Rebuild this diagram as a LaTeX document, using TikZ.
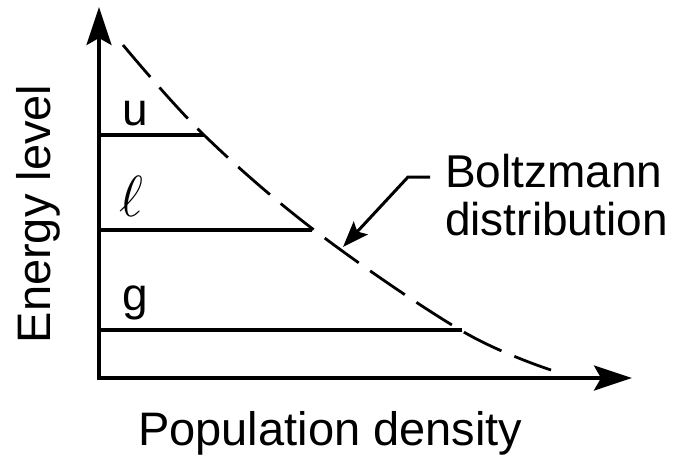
\RequirePackage{fix-cm}
\documentclass[tikz,border=0pt]{standalone}
\usepackage{fontspec}
\setmainfont{Liberation Sans}
\usetikzlibrary{arrows.meta}
\begin{document}
\begin{tikzpicture}[x=1pt,y=-1pt,
  axis/.style={line width=3.8pt, {Stealth[length=38pt,width=25pt,inset=7pt]}-{Stealth[length=38pt,width=25pt,inset=7pt]}},
  level/.style={line width=3.8pt},
  conn/.style={line width=3pt, -{Stealth[length=26pt,width=19pt,inset=5pt]}},
  dashcurve/.style={line width=2.8pt, dash pattern=on 42pt off 14pt},
  lbl/.style={inner sep=0pt, anchor=base west, font=\fontsize{46}{48}\selectfont},
  ellstyle/.style={inner sep=0pt, anchor=base west, font=\fontsize{58}{60}\selectfont},
  big/.style={inner sep=0pt, font=\fontsize{47}{50}\selectfont}]
\useasboundingbox (0,0) rectangle (677,456);
% axes
\coordinate (O) at (99,378);
\coordinate (ytip) at (99,7);
\coordinate (xtip) at (632,378);
\draw[axis] (ytip) -- (O) -- (xtip);
% levels
\coordinate (us) at (99,135);  \coordinate (ue) at (204,135);
\coordinate (ls) at (99,230);  \coordinate (le) at (312,230);
\coordinate (gs) at (99,330);  \coordinate (ge) at (462,330);
\draw[level] (us) -- (ue);
\draw[level] (ls) -- (le);
\draw[level] (gs) -- (ge);
% level labels
\node[lbl] (u) at (122,125) {u};
\node[ellstyle] (l) at (119,216) {$\ell$};
\node[lbl] (g) at (122,310) {g};
% dashed Boltzmann curve
\draw[dashcurve] plot[smooth, tension=0.6] coordinates {(123,45) (205,136) (318,233) (462,331) (551,370)};
% Boltzmann label
\node[lbl] (bz1) at (445,187) {Boltzmann};
\node[lbl] (bz2) at (445,235) {distribution};
\coordinate (cstart) at ([xshift=-15pt]bz1.west |- 0,177);
\coordinate (cbend) at (408,177);
\coordinate (ctip) at (343,247);
\draw[conn] (cstart) -- (cbend) -- (ctip);
% axis titles
\node[big, anchor=base west] (xl) at (138,445) {Population density};
\node[big, rotate=90, anchor=base] (yl) at (50,214) {Energy level};
\end{tikzpicture}
\end{document}
